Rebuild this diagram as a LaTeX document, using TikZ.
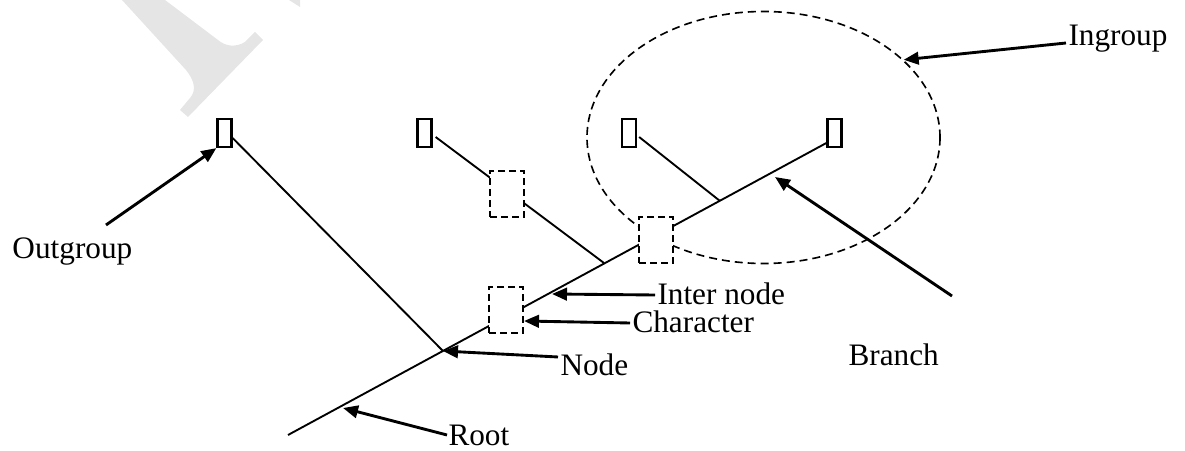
\documentclass[tikz,border=0pt]{standalone}
\usepackage{fontspec}
\setmainfont{Liberation Serif}
\usetikzlibrary{arrows.meta,shapes.geometric}
\begin{document}
\begin{tikzpicture}[x=0.4pt,y=-0.4pt,
  leaf/.style={draw,line width=0.9pt,minimum width=5.6pt,minimum height=11.2pt,inner sep=0pt},
  charbox/.style={draw,dash pattern=on 2.8pt off 1.6pt,fill=white,line width=0.75pt,minimum width=13.6pt,minimum height=18.4pt,inner sep=0pt},
  group/.style={draw,ellipse,dash pattern=on 3.2pt off 2pt,line width=0.65pt,minimum width=141.2pt,minimum height=100.8pt,inner sep=0pt},
  branchline/.style={line width=0.75pt},
  pointer/.style={line width=1.15pt,-{Triangle[length=6pt,width=5pt]}},
  lbl/.style={inner sep=0pt,anchor=base west,font=\fontsize{12.5pt}{15pt}\selectfont}]
\useasboundingbox (0,0) rectangle (1185,451);
% faint watermark
\fill[black!10] (122,0) -- (186,70) .. controls (194,80) and (197,90) .. (190,98) -- (180,110) -- (188,117) -- (263,40) -- (255,32) -- (245,42) .. controls (235,48) and (225,46) .. (218,40) -- (165,0) -- cycle;
\fill[black!10] (289,0) -- (300,0) -- (300,7) -- cycle;
% ingroup ellipse
\node[group] (IG) at (763.5,137.5) {};
% internal points
\coordinate (root) at (288,435);
\coordinate (nOut) at (443,351);
\coordinate (nB) at (604,263);
\coordinate (nC) at (720,201);
% leaves
\node[leaf] (L1) at (224.5,133) {};
\node[leaf] (L2) at (424.5,133) {};
\node[leaf] (L3) at (629,133) {};
\node[leaf] (L4) at (834.5,133) {};
% branches
\draw[branchline] (root) -- ([yshift=-4pt]L4.west);
\draw[branchline] ([yshift=-2pt]L1.east) -- (nOut);
\draw[branchline] ([xshift=1.2pt,yshift=-1.6pt]L2.east) -- (nB);
\draw[branchline] ([xshift=0.8pt,yshift=-1.6pt]L3.east) -- (nC);
% characters
\node[charbox] (D1) at (507,194) {};
\node[charbox] (D2) at (506,310) {};
\node[charbox] (D3) at (656,240) {};
% labels
\node[lbl] (tIn) at (1068,46) {Ingroup};
\node[lbl] (tOut) at (12,259) {Outgroup};
\node[lbl] (tInter) at (657,305) {Inter node};
\node[lbl] (tChar) at (632,333) {Character};
\node[lbl] (tNode) at (560,376) {Node};
\node[lbl] (tBranch) at (848,366) {Branch};
\node[lbl] (tRoot) at (448,446) {Root};
% pointer tails
\coordinate (aIn) at (1066,43);
\coordinate (aOut) at (106,225);
\coordinate (aInter) at (655,295);
\coordinate (aChar) at (630,323);
\coordinate (aNode) at (558,357);
\coordinate (aBranch) at (952,296);
\coordinate (aRoot) at (447,435);
% pointer tips
\coordinate (pInter) at (552,294);
\coordinate (pChar) at (524,321);
\coordinate (pBranch) at (775,177);
\coordinate (pRoot) at (343,408);
\draw[pointer] (aIn) -- (IG.29);
\draw[pointer] (aOut) -- (L1.south west);
\draw[pointer] (aInter) -- (pInter);
\draw[pointer] (aChar) -- (pChar);
\draw[pointer] (aNode) -- (nOut);
\draw[pointer] (aBranch) -- (pBranch);
\draw[pointer] (aRoot) -- (pRoot);
\end{tikzpicture}
\end{document}
